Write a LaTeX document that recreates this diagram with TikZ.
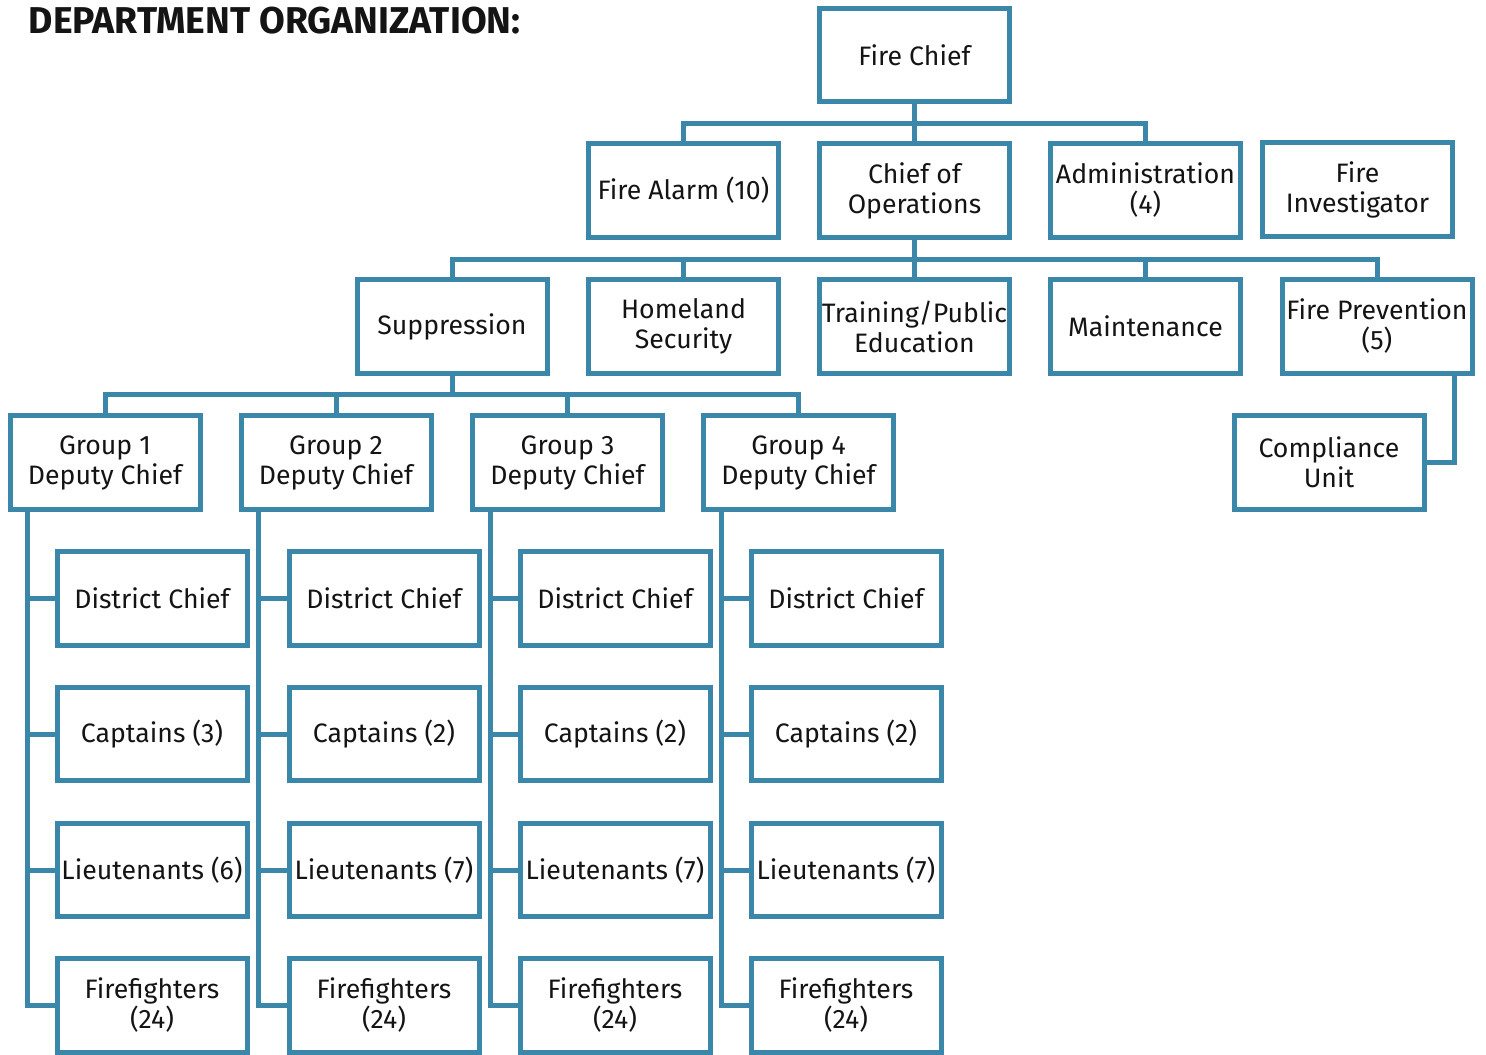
\documentclass[tikz,border=0pt]{standalone}
\usepackage{fontspec}
\setmainfont{Fira Sans}
\definecolor{orgblue}{RGB}{58,135,170}
\definecolor{txt}{RGB}{20,20,20}
\begin{document}
\begin{tikzpicture}[x=0.75pt,y=-0.75pt,
  box/.style={draw=orgblue,line width=3.75pt,minimum width=142.5pt,minimum height=70pt,
    inner sep=0pt,align=center,text=txt,font=\fontsize{20}{22.5}\selectfont,fill=white},
  conn/.style={draw=orgblue,line width=3.75pt,line join=miter}]
\useasboundingbox (0,0) rectangle (1486,1055);
\node[anchor=west,text=txt,font=\fontsize{28}{32}\selectfont\bfseries] (title) at (24,21) {DEPARTMENT ORGANIZATION:};
% row 1
\node[box] (fc) at (914.5,55) {Fire Chief};
% row 2
\node[box] (fa) at (683.5,190.5) {Fire Alarm (10)};
\node[box] (co) at (914.5,190.5) {Chief of\\Operations};
\node[box] (adm) at (1145.5,190.5) {Administration\\(4)};
\node[box] (fi) at (1357.5,189.5) {Fire\\Investigator};
% row 3
\node[box] (sup) at (452,326.5) {Suppression};
\node[box] (hs) at (683.5,326.5) {Homeland\\Security};
\node[box] (tr) at (914.5,326.5) {Training/Public\\Education};
\node[box] (mt) at (1145.5,326.5) {Maintenance};
\node[box] (fp) at (1377,326.5) {Fire Prevention\\(5)};
% row 4
\node[box] (g1) at (105,462.5) {Group 1\\Deputy Chief};
\node[box] (g2) at (336,462.5) {Group 2\\Deputy Chief};
\node[box] (g3) at (567.5,462.5) {Group 3\\Deputy Chief};
\node[box] (g4) at (798.5,462.5) {Group 4\\Deputy Chief};
\node[box] (cu) at (1329,462.5) {Compliance\\Unit};
% columns
\foreach \i/\x/\c/\l in {1/152/3/6,2/384/2/7,3/615/2/7,4/846/2/7}{
  \node[box] (dc\i) at (\x,598.5) {District Chief};
  \node[box] (cp\i) at (\x,734) {Captains (\c)};
  \node[box] (lt\i) at (\x,870) {Lieutenants (\l)};
  \node[box] (ff\i) at (\x,1005.5) {Firefighters\\(24)};
  \coordinate (v\i) at ([xshift=15pt]g\i.south west);
  \draw[conn] (v\i) |- (ff\i.west);
  \draw[conn] (v\i |- dc\i.west) -- (dc\i.west);
  \draw[conn] (v\i |- cp\i.west) -- (cp\i.west);
  \draw[conn] (v\i |- lt\i.west) -- (lt\i.west);
}
% connectors row1-2
\draw[conn] (fc.south) -- (co.north);
\draw[conn] (fa.north) -- ++(0,-18) -| (adm.north);
% row 2-3
\draw[conn] (co.south) -- (tr.north);
\draw[conn] (sup.north) -- ++(0,-18) -| (fp.north);
\draw[conn] (hs.north) -- ++(0,-18);
\draw[conn] (mt.north) -- ++(0,-18);
% row 3-4
\draw[conn] (sup.south) -- ++(0,19);
\draw[conn] (g1.north) -- ++(0,-19) -| (g4.north);
\draw[conn] (g2.north) -- ++(0,-19);
\draw[conn] (g3.north) -- ++(0,-19);
% fire prevention
\draw[conn] ([xshift=-15pt]fp.south east) |- (cu.east);
\end{tikzpicture}
\end{document}
